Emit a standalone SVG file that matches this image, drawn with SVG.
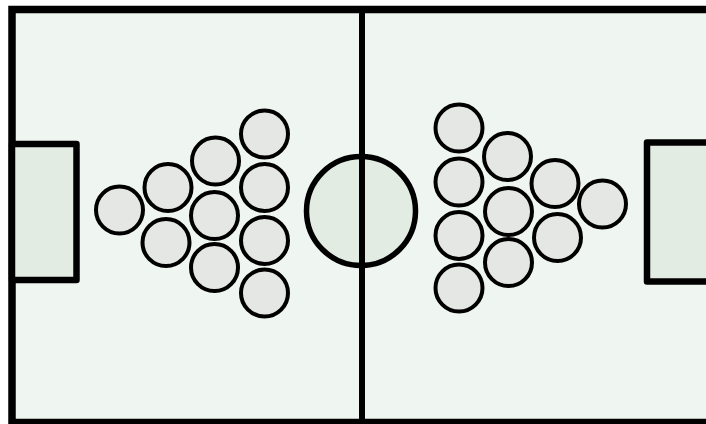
<svg xmlns="http://www.w3.org/2000/svg" width="706" height="424" viewBox="0 0 706 424">
<style>
.line{stroke:#000;fill:none}
.box{fill:#e2ece3;stroke:#000;stroke-width:6.5;stroke-linejoin:round}
.ball{fill:#e4e7e4;stroke:#000;stroke-width:4}
</style>
<rect width="706" height="424" fill="#ffffff"/>
<g id="field">
<rect x="12" y="9.5" width="700" height="413" fill="#eff5f0" stroke="#000" stroke-width="7.5"/>
</g>
<g id="goal-left"><rect class="box" x="12" y="144" width="64.5" height="136"/></g>
<g id="goal-right"><rect class="box" x="647" y="142.5" width="70" height="139"/></g>
<g id="center-circle"><circle cx="361" cy="211" r="54.5" fill="#e2ece3" stroke="#000" stroke-width="5.5"/></g>
<g id="connectors"><line class="line" x1="362" y1="9.5" x2="362" y2="422" stroke-width="6"/></g>
<g id="team-left">
<circle class="ball" cx="119.5" cy="210" r="23.5"/>
<circle class="ball" cx="168" cy="187.5" r="23.5"/>
<circle class="ball" cx="166" cy="242.5" r="23.5"/>
<circle class="ball" cx="215.5" cy="161" r="23.5"/>
<circle class="ball" cx="214.5" cy="215.5" r="23.5"/>
<circle class="ball" cx="214.5" cy="267.5" r="23.5"/>
<circle class="ball" cx="264.5" cy="134" r="23.5"/>
<circle class="ball" cx="264.5" cy="187.5" r="23.5"/>
<circle class="ball" cx="264.5" cy="240.5" r="23.5"/>
<circle class="ball" cx="264.5" cy="293" r="23.5"/>
</g>
<g id="team-right">
<circle class="ball" cx="459" cy="128" r="23.5"/>
<circle class="ball" cx="459" cy="182" r="23.5"/>
<circle class="ball" cx="459" cy="235.5" r="23.5"/>
<circle class="ball" cx="459" cy="288" r="23.5"/>
<circle class="ball" cx="507.5" cy="156.5" r="23.5"/>
<circle class="ball" cx="508.5" cy="211.5" r="23.5"/>
<circle class="ball" cx="508.5" cy="262.5" r="23.5"/>
<circle class="ball" cx="555" cy="183.5" r="23.5"/>
<circle class="ball" cx="557.5" cy="237.5" r="23.5"/>
<circle class="ball" cx="602.5" cy="204" r="23.5"/>
</g>
</svg>
